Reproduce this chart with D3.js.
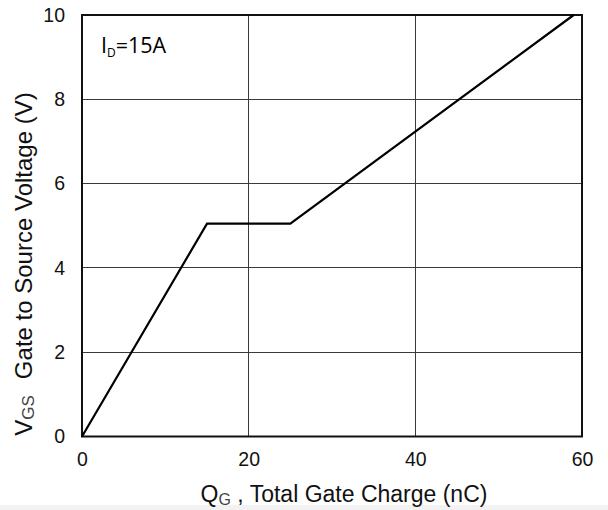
<!DOCTYPE html>
<html>
<head>
<meta charset="utf-8">
<script src="https://cdn.jsdelivr.net/npm/d3@7"></script>
<style>
  html, body { margin: 0; padding: 0; background: #fff; }
  svg { display: block; }
</style>
</head>
<body>
<script>
// ---- data ----
const qgValues  = [0, 15, 25, 59];          // Total gate charge (nC)
const vgsValues = [0, 5.05, 5.05, 10];      // Gate-to-source voltage (V)
const xTicks = [0, 20, 40, 60];
const yTicks = [0, 2, 4, 6, 8, 10];
const annotationMain = "I";
const annotationSub = "D";
const annotationRest = "=15A";

const W = 608, H = 510;
const m = { left: 82, right: 26, top: 15, bottom: 73.5 };
const iw = W - m.left - m.right, ih = H - m.top - m.bottom;

const svg = d3.select("body").append("svg").attr("width", W).attr("height", H);

// light gray strip at the bottom of the picture
svg.append("rect").attr("x", 0).attr("y", 505).attr("width", W).attr("height", 5).attr("fill", "#f2f2f2");

const g = svg.append("g").attr("transform", `translate(${m.left},${m.top})`);

const x = d3.scaleLinear().domain([0, 60]).range([0, iw]);
const y = d3.scaleLinear().domain([0, 10]).range([ih, 0]);

// grid
g.append("g").selectAll("line").data(xTicks.slice(1, -1)).join("line")
  .attr("x1", d => x(d)).attr("x2", d => x(d)).attr("y1", 0).attr("y2", ih)
  .attr("stroke", "#3a3a3a").attr("stroke-width", 1).attr("shape-rendering", "crispEdges");
g.append("g").selectAll("line").data(yTicks.slice(1, -1)).join("line")
  .attr("y1", d => y(d)).attr("y2", d => y(d)).attr("x1", 0).attr("x2", iw)
  .attr("stroke", "#3a3a3a").attr("stroke-width", 1).attr("shape-rendering", "crispEdges");

// axes (labels only)
const fontAx = "Liberation Sans, Arial, sans-serif";
const xAxis = g.append("g").attr("transform", `translate(0,${ih})`)
  .call(d3.axisBottom(x).tickValues(xTicks).tickSize(0).tickPadding(15.5).tickFormat(d3.format("d")));
const yAxis = g.append("g")
  .call(d3.axisLeft(y).tickValues(yTicks).tickSize(0).tickPadding(17).tickFormat(d3.format("d")));
[xAxis, yAxis].forEach(a => {
  a.select(".domain").remove();
  a.selectAll("text").attr("font-family", fontAx).attr("font-size", 19.5).attr("fill", "#111");
});

// frame
g.append("rect").attr("x", 0).attr("y", 0).attr("width", iw).attr("height", ih)
  .attr("fill", "none").attr("stroke", "#111").attr("stroke-width", 2);

// data line
const pts = qgValues.map((q, i) => [q, vgsValues[i]]);
g.append("path").datum(pts)
  .attr("d", d3.line().x(d => x(d[0])).y(d => y(d[1])))
  .attr("fill", "none").attr("stroke", "#000").attr("stroke-width", 2.2)
  .attr("stroke-linejoin", "miter");

// annotation
const ann = g.append("text").attr("x", 19).attr("y", 38)
  .attr("font-family", "Open Sans, Noto Sans, sans-serif").attr("font-size", 21.5).attr("fill", "#000");
ann.append("tspan").text(annotationMain);
ann.append("tspan").attr("font-size", 12).attr("dy", 4).text(annotationSub);
ann.append("tspan").attr("dy", -4).text(annotationRest);

// x title
const xt = svg.append("text").attr("x", 344).attr("y", 502).attr("text-anchor", "middle")
  .attr("font-family", fontAx).attr("font-size", 23).attr("fill", "#111");
xt.append("tspan").text("Q");
xt.append("tspan").attr("font-size", 16).attr("dy", 3).attr("fill", "#444").text("G");
xt.append("tspan").attr("dy", -3).text(" , Total Gate Charge (nC)");

// y title
const yt = svg.append("text")
  .attr("transform", `translate(32,264) rotate(-90)`).attr("text-anchor", "middle")
  .attr("font-family", fontAx).attr("font-size", 24).attr("fill", "#111");
yt.append("tspan").text("V");
yt.append("tspan").attr("font-size", 17).attr("dy", 2).attr("fill", "#444").text("GS");
yt.append("tspan").attr("dy", -2).attr("dx", 16).text("Gate to Source Voltage (V)");
</script>
</body>
</html>
